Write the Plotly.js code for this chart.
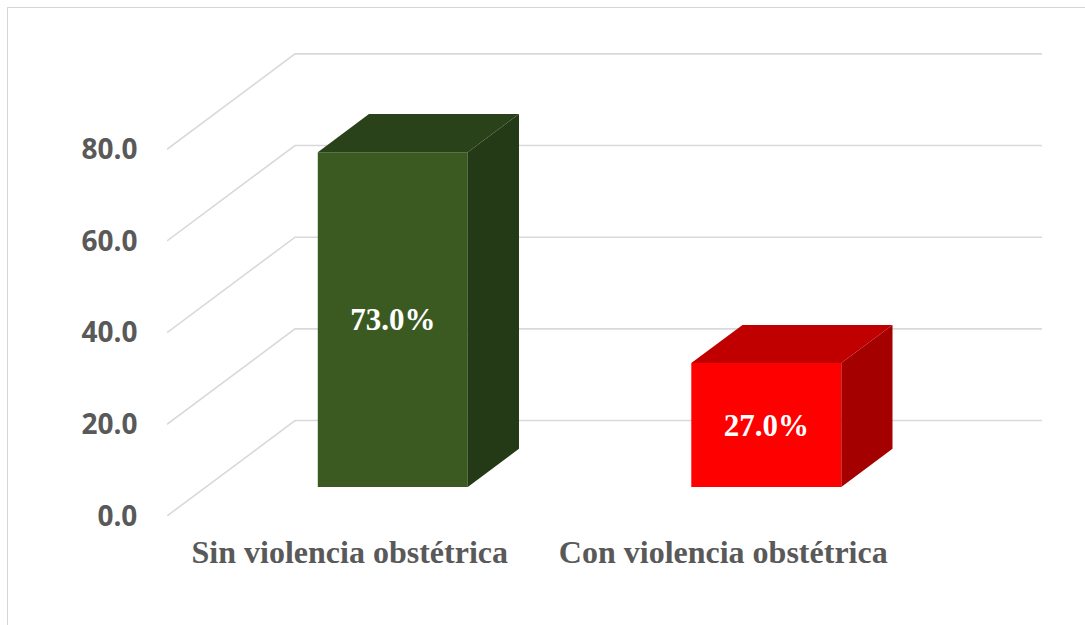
<!DOCTYPE html>
<html>
<head>
<meta charset="utf-8">
<script src="https://cdn.plot.ly/plotly-3.0.1.min.js"></script>
<style>
  html, body { margin: 0; padding: 0; background: #ffffff; }
  #chart { width: 1085px; height: 625px; position: relative; }
  #frame { position: absolute; left: 7px; top: 7px; width: 1200px; height: 800px;
           border: 1.5px solid #d6d6d6; pointer-events: none; z-index: 5; }
  #wrap { position: relative; width: 1085px; height: 625px; overflow: hidden; }
</style>
</head>
<body>
<div id="wrap">
  <div id="chart"></div>
  <div id="frame"></div>
</div>
<script>
// ---- data ----
const categories = ['Sin violencia obstétrica', 'Con violencia obstétrica'];
const values = [73.0, 27.0];
const yTickVals = [0, 20, 40, 60, 80];
const yTickText = ['0.0', '20.0', '40.0', '60.0', '80.0'];
const frontColors = ['#3A5A22', '#FF0000'];
const topColors = ['#2A4219', '#C00000'];
const sideColors = ['#243A16', '#A40000'];

// ---- 3D geometry (depth projection, in axis units) ----
const DX = 0.3427;   // full depth shift along x
const DY = 20.82;    // full depth shift along y
const D0 = 0.305;    // depth of bar front face
const BD = 0.40;     // bar depth
const W = 0.4016;    // bar width
const idx = categories.map((c, i) => i);

const traces = [];

// gridlines (side wall diagonals + back wall horizontals) as shapes below traces
const xLeft = -0.5, xRight = idx.length - 0.5;
const shapes = yTickVals.map(v => ({
  type: 'path', layer: 'below', xref: 'x', yref: 'y',
  path: 'M' + xLeft + ',' + v + ' L' + (xLeft + DX) + ',' + (v + DY) + ' L' + (xRight + DX) + ',' + (v + DY),
  line: { color: '#d9d9d9', width: 1.6 }
}));

// side and top faces
idx.forEach(i => {
  const xl = i + D0 * DX - W / 2;
  const xr = xl + W;
  const base = D0 * DY;
  const top = base + values[i];
  const bdx = BD * DX, bdy = BD * DY;
  traces.push({
    type: 'scatter', mode: 'lines', fill: 'toself',
    x: [xr, xr, xr + bdx, xr + bdx, xr],
    y: [base, top, top + bdy, base + bdy, base],
    fillcolor: sideColors[i], line: { width: 0, color: sideColors[i] },
    hoverinfo: 'skip', showlegend: false
  });
  traces.push({
    type: 'scatter', mode: 'lines', fill: 'toself',
    x: [xl, xr, xr + bdx, xl + bdx, xl],
    y: [top, top, top + bdy, top + bdy, top],
    fillcolor: topColors[i], line: { width: 0, color: topColors[i] },
    hoverinfo: 'skip', showlegend: false
  });
});

// front faces
traces.push({
  type: 'bar',
  x: idx.map(i => i + D0 * DX),
  y: values,
  base: idx.map(() => D0 * DY),
  width: W,
  marker: { color: frontColors, line: { width: 0 } },
  text: values.map(v => '<b>' + v.toFixed(1) + '%</b>'),
  textposition: 'inside',
  insidetextanchor: 'middle',
  textangle: 0,
  constraintext: 'none',
  textfont: { family: 'Liberation Serif, Times New Roman, serif', size: 31, color: '#ffffff' },
  hoverinfo: 'skip', showlegend: false
});

const layout = {
  width: 1085, height: 625,
  margin: { l: 167, r: 43, t: 53, b: 109 },
  paper_bgcolor: '#ffffff', plot_bgcolor: '#ffffff',
  showlegend: false,
  shapes: shapes,
  xaxis: {
    range: [-0.5, idx.length - 0.5 + DX],
    tickvals: idx, ticktext: categories.map(c => '<b>' + c + '</b>'),
    showgrid: false, zeroline: false, showline: false,
    ticks: 'outside', ticklen: 8, tickcolor: 'rgba(0,0,0,0)',
    ticklabelshift: -4,
    tickfont: { family: 'Liberation Serif, Times New Roman, serif', size: 32, color: '#595959' },
    fixedrange: true
  },
  yaxis: {
    range: [0, 101],
    tickvals: yTickVals, ticktext: yTickText.map(t => '<b>' + t + '</b>'),
    showgrid: false, zeroline: false, showline: false,
    ticks: 'outside', ticklen: 23, tickcolor: 'rgba(0,0,0,0)',
    tickfont: { family: 'Open Sans, sans-serif', size: 28, color: '#595959' },
    fixedrange: true
  }
};

Plotly.newPlot('chart', traces, layout, { displayModeBar: false, staticPlot: true });
</script>
</body>
</html>
